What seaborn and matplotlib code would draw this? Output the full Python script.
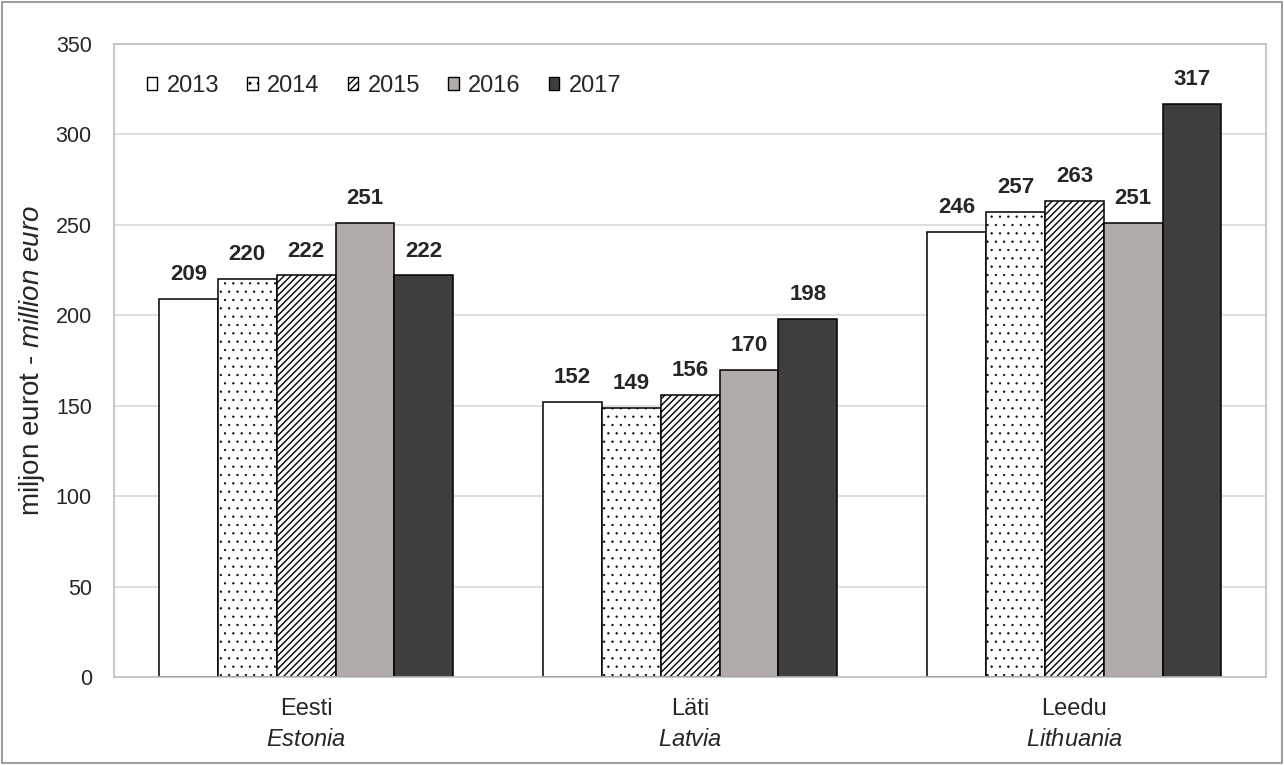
import pandas as pd
import numpy as np
import matplotlib.pyplot as plt
import seaborn as sns
from matplotlib.patches import Patch, Rectangle
import warnings

warnings.filterwarnings("ignore")

countries = ["Eesti\n$\\mathit{Estonia}$", "Läti\n$\\mathit{Latvia}$", "Leedu\n$\\mathit{Lithuania}$"]
years = ["2013", "2014", "2015", "2016", "2017"]
eesti = [209, 220, 222, 251, 222]
lati = [152, 149, 156, 170, 198]
leedu = [246, 257, 263, 251, 317]

df = pd.DataFrame({
    "country": np.repeat(countries, len(years)),
    "year": years * len(countries),
    "value": eesti + lati + leedu,
})

sns.set_style("white")
plt.rcParams["font.family"] = ["Liberation Sans", "DejaVu Sans"]
plt.rcParams["mathtext.fontset"] = "custom"
plt.rcParams["mathtext.rm"] = "Liberation Sans"
plt.rcParams["mathtext.it"] = "Liberation Sans:italic"
plt.rcParams["hatch.linewidth"] = 1.0

fills = ["white", "white", "white", "#b1acaa", "#403e3c"]
hatches = ["", "..", "/////", "", ""]
hatch_lw = [1.0, 0.4, 1.0, 1.0, 1.0]

fig = plt.figure(figsize=(12.84, 7.65), dpi=100)
ax = fig.add_axes([0.0888, 0.115, 0.8975, 0.8275])

sns.barplot(df, x="country", y="value", hue="year", palette=fills, width=0.766,
            edgecolor="black", linewidth=1.1, saturation=1, legend=False, ax=ax)

for cont, h, hl in zip(ax.containers, hatches, hatch_lw):
    for p in cont:
        p.set_hatch(h)
        try:
            p.set_hatch_linewidth(hl)
        except AttributeError:
            pass
    ax.bar_label(cont, fmt="%d", padding=10, fontsize=16, fontweight="bold")

ax.set_ylim(0, 350)
ax.set_yticks(range(0, 351, 50))
ax.grid(axis="y", color="#d9d9d9", linewidth=1.2)
ax.set_axisbelow(True)
for s in ax.spines.values():
    s.set_color("#bfbfbf")
    s.set_linewidth(1.2)
ax.tick_params(axis="y", labelsize=15.5, length=0, pad=16)
ax.tick_params(axis="x", labelsize=17, length=0, pad=15)
for t in ax.get_xticklabels():
    t.set_linespacing(1.55)
ax.set_xlabel("")
ax.set_ylabel("miljon eurot - $\\mathit{million\\ euro}$", fontsize=20, labelpad=6)

handles = [Patch(facecolor=c, edgecolor="black", hatch=h, linewidth=1.0) for c, h in zip(fills, hatches)]
ax.legend(handles, years, loc="upper left", bbox_to_anchor=(0.01, 0.985), ncol=5, frameon=False,
          fontsize=17, handlelength=0.45, handleheight=0.45, handletextpad=0.4, columnspacing=1.18)

fig.patches.append(Rectangle((0.0015, 0.0025), 0.997, 0.995, transform=fig.transFigure,
                             fill=False, edgecolor="#8c8c8c", linewidth=1.2))

fig.savefig("out.png", dpi=100)
